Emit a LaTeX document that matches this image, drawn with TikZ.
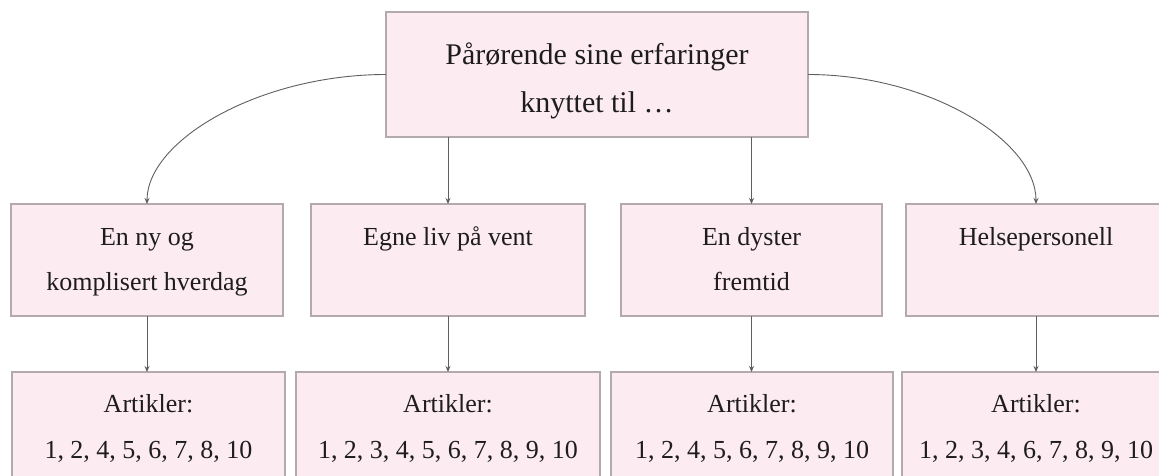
\documentclass[tikz,border=0pt]{standalone}
\usepackage{fontspec}
\setmainfont{Liberation Serif}
\usetikzlibrary{arrows.meta}
\definecolor{boxfill}{RGB}{252,236,241}
\definecolor{boxline}{RGB}{178,170,172}
\definecolor{arrowcol}{RGB}{95,95,95}
\definecolor{txtcol}{RGB}{30,28,28}
\newcommand\cell[6]{\parbox[c][#2pt][t]{#1pt}{\fontsize{#3}{#4}\selectfont\centering\vspace*{#5pt}\strut #6}}
\tikzset{
  card/.style={draw=boxline, fill=boxfill, line width=1.1pt, inner sep=0pt, outer sep=0pt, anchor=north west, text=txtcol},
  conn/.style={draw=arrowcol, line width=0.9pt, -{Stealth[length=6pt,width=5pt]}}
}
\begin{document}
\begin{tikzpicture}[x=1pt,y=-1pt]
\useasboundingbox (0,0) rectangle (1159,476);
\fill[white] (0,0) rectangle (1159,476);
\clip (0,0) rectangle (1159,476);
% top
\node[card] (top) at (386,12) {\cell{422}{125}{30}{48}{19.4}{Pårørende sine erfaringer\\knyttet til …}};
% row 2
\node[card] (b1) at (11,204)  {\cell{272}{112}{26}{45}{9.5}{En ny og\\komplisert hverdag}};
\node[card] (b2) at (311,204) {\cell{274}{112}{26}{45}{9.5}{Egne liv på vent}};
\node[card] (b3) at (621,204) {\cell{261}{112}{26}{45}{9.5}{En dyster\\fremtid}};
\node[card] (b4) at (906,204) {\cell{260}{112}{26}{45}{9.5}{Helsepersonell}};
% row 3
\node[card] (c1) at (12,372)  {\cell{273}{123}{26}{46}{7.8}{Artikler:\\1, 2, 4, 5, 6, 7, 8, 10}};
\node[card] (c2) at (296,372) {\cell{304}{123}{26}{46}{7.8}{Artikler:\\1, 2, 3, 4, 5, 6, 7, 8, 9, 10}};
\node[card] (c3) at (611,372) {\cell{282}{123}{26}{46}{7.8}{Artikler:\\1, 2, 4, 5, 6, 7, 8, 9, 10}};
\node[card] (c4) at (902,372) {\cell{268}{123}{26}{46}{7.8}{Artikler:\\1, 2, 3, 4, 6, 7, 8, 9, 10}};
% connectors top -> row 2
\draw[conn] (top.west) .. controls +(-126,0) and +(0,-64) .. (b1.north);
\draw[conn] (top.south -| b2.north) -- (b2.north);
\draw[conn] (top.south -| b3.north) -- (b3.north);
\draw[conn] (top.east) .. controls +(120,0) and +(0,-64) .. (b4.north);
% row 2 -> row 3
\draw[conn] (b1.south) -- (b1.south |- c1.north);
\draw[conn] (b2.south) -- (b2.south |- c2.north);
\draw[conn] (b3.south) -- (b3.south |- c3.north);
\draw[conn] (b4.south) -- (b4.south |- c4.north);
\end{tikzpicture}
\end{document}
